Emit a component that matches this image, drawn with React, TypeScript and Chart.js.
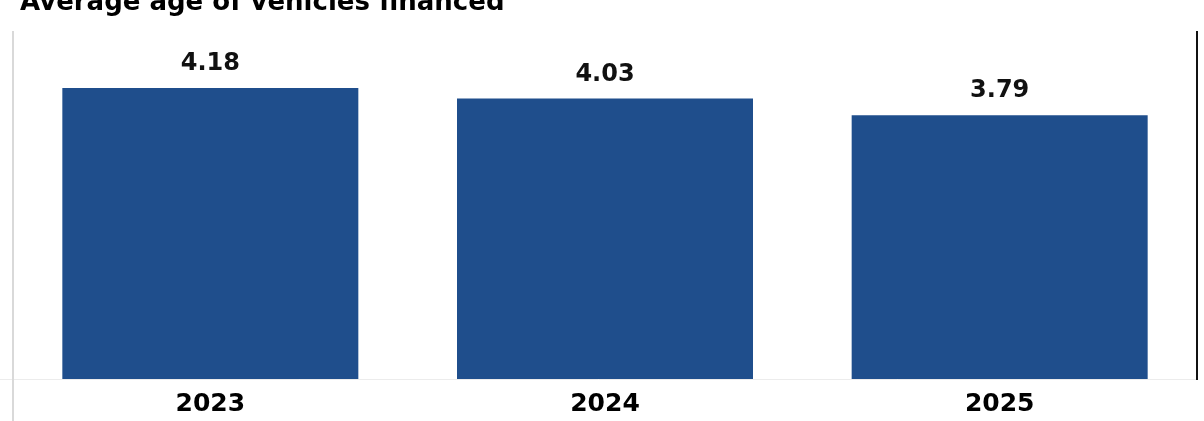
import React, { useEffect, useRef } from "react";
import { Chart, registerables } from "chart.js";

Chart.register(...registerables);

const titleText = "Average age of vehicles financed";
const categories = ["2023", "2024", "2025"];
const avgAge = [4.18, 4.03, 3.79];
const valueLabels = ["4.18", "4.03", "3.79"];

const FONT = "'DejaVu Sans', Verdana, sans-serif";

const decorPlugin = {
  id: "decor",
  afterDraw(chart: any) {
    const { ctx, chartArea } = chart;
    const { left, right, top, bottom } = chartArea;
    ctx.save();
    // title (clipped at the top, as in the reference)
    ctx.fillStyle = "#000000";
    ctx.font = `bold 26px ${FONT}`;
    ctx.textAlign = "left";
    ctx.textBaseline = "alphabetic";
    ctx.fillText(titleText, 20, 10);
    // bottom axis line
    ctx.strokeStyle = "#ececec";
    ctx.lineWidth = 1;
    ctx.beginPath();
    ctx.moveTo(0, Math.round(bottom) + 0.5);
    ctx.lineTo(right, Math.round(bottom) + 0.5);
    ctx.stroke();
    // left grey line
    ctx.strokeStyle = "#d9d9d9";
    ctx.lineWidth = 2;
    ctx.beginPath();
    ctx.moveTo(left, top);
    ctx.lineTo(left, chart.height);
    ctx.stroke();
    // right black line
    ctx.strokeStyle = "#111111";
    ctx.lineWidth = 2;
    ctx.beginPath();
    ctx.moveTo(right, top);
    ctx.lineTo(right, bottom + 1);
    ctx.stroke();
    // value labels
    const meta = chart.getDatasetMeta(0);
    ctx.fillStyle = "#111111";
    ctx.font = `bold 24px ${FONT}`;
    ctx.textAlign = "center";
    ctx.textBaseline = "alphabetic";
    meta.data.forEach((bar: any, i: number) => {
      ctx.fillText(valueLabels[i], bar.x, bar.y - 18);
    });
    ctx.restore();
  },
};

export default function App() {
  const ref = useRef<HTMLCanvasElement | null>(null);
  useEffect(() => {
    document.body.style.margin = "0";
    const chart = new Chart(ref.current as HTMLCanvasElement, {
      type: "bar",
      data: {
        labels: categories,
        datasets: [
          {
            data: avgAge,
            backgroundColor: "#1f4e8c",
            barPercentage: 0.75,
            categoryPercentage: 1,
          },
        ],
      },
      options: {
        animation: false,
        responsive: false,
        maintainAspectRatio: false,
        layout: { padding: { left: 13, right: 7, top: 31, bottom: 3 } },
        plugins: {
          legend: { display: false },
          tooltip: { enabled: false },
          title: { display: false },
        },
        scales: {
          x: {
            grid: { display: false, drawTicks: false },
            border: { display: false },
            afterFit: (scale: any) => {
              scale.height = 39;
            },
            ticks: {
              color: "#000000",
              padding: 10,
              font: { family: FONT, size: 25, weight: "bold" },
            },
          },
          y: {
            display: false,
            min: 0,
            max: 5,
          },
        },
      },
      plugins: [decorPlugin],
    });
    return () => chart.destroy();
  }, []);
  return (
    <div style={{ width: 1204, height: 421, background: "#fff" }}>
      <canvas
        ref={ref}
        width={1204}
        height={421}
        style={{ display: "block", width: 1204, height: 421 }}
      />
    </div>
  );
}
